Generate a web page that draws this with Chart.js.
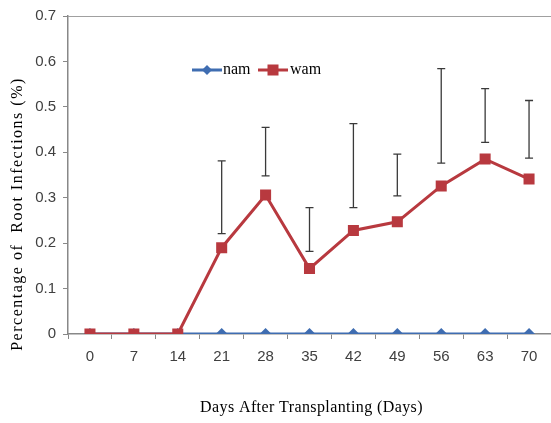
<!DOCTYPE html>
<html>
<head>
<meta charset="utf-8">
<script src="https://cdn.jsdelivr.net/npm/chart.js@4.4.1/dist/chart.umd.min.js"></script>
<style>
  html, body { margin: 0; padding: 0; background: #fff; }
  #wrap { width: 551px; height: 423px; }
</style>
</head>
<body>
<div id="wrap"><canvas id="chart"></canvas></div>
<script>
// days after transplanting
const days = ["0", "7", "14", "21", "28", "35", "42", "49", "56", "63", "70"];
// root infection percentages
const nam = [0, 0, 0, 0, 0, 0, 0, 0, 0, 0, 0];
const wam = [0, 0, 0, 0.19, 0.306, 0.144, 0.228, 0.247, 0.326, 0.385, 0.341];
// error bar ranges (drawn as floating bars, as in the source figure)
const errLow = [null, null, null, 0.221, 0.348, 0.182, 0.278, 0.304, 0.376, 0.422, 0.387];
const errHigh = [null, null, null, 0.381, 0.455, 0.278, 0.463, 0.396, 0.584, 0.540, 0.514];
const yTicks = [0, 0.1, 0.2, 0.3, 0.4, 0.5, 0.6, 0.7];

const xTitle = "Days After Transplanting (Days)";
const yTitle = "Percentage of  Root Infections (%)";

const BLUE = "#3F6DB1";
const RED = "#B8393F";

// draws the error bars from the arrays through the scales
const errorBars = {
    id: "errorBars",
    afterDatasetsDraw(chart) {
        const ctx = chart.ctx;
        const x = chart.scales.x;
        const y = chart.scales.y;
        ctx.save();
        ctx.strokeStyle = "#3a3a3a";
        ctx.lineWidth = 1.3;
        errLow.forEach((lo, i) => {
            if (lo === null) return;
            const px = x.getPixelForValue(i);
            const y1 = y.getPixelForValue(lo);
            const y2 = y.getPixelForValue(errHigh[i]);
            ctx.beginPath();
            ctx.moveTo(px, y1); ctx.lineTo(px, y2);
            ctx.moveTo(px - 4, y1); ctx.lineTo(px + 4, y1);
            ctx.moveTo(px - 4, y2); ctx.lineTo(px + 4, y2);
            ctx.stroke();
        });
        ctx.restore();
    }
};

// top border line, axis titles and the legend inside the plot
const extras = {
    id: "extras",
    afterDraw(chart) {
        const ctx = chart.ctx;
        const a = chart.chartArea;
        ctx.save();
        ctx.strokeStyle = "#a0a0a0";
        ctx.lineWidth = 1;
        ctx.beginPath();
        ctx.moveTo(a.left, a.top + 0.5);
        ctx.lineTo(a.right, a.top + 0.5);
        ctx.stroke();

        // axis titles (letter spaced like the original)
        ctx.fillStyle = "#000";
        ctx.textAlign = "center";
        ctx.textBaseline = "middle";
        ctx.font = "16px 'Liberation Serif'";
        ctx.letterSpacing = "0.4px";
        ctx.fillText(xTitle, (a.left + a.right) / 2 + 2, 408);
        ctx.save();
        ctx.translate(18, 214);
        ctx.rotate(-Math.PI / 2);
        ctx.letterSpacing = "1.5px";
        ctx.fillText(yTitle, 0, 0);
        ctx.restore();
        ctx.letterSpacing = "0px";

        const ly = 70;
        ctx.textAlign = "left";
        ctx.lineWidth = 3;
        ctx.font = "16px 'Liberation Serif'";
        // nam
        ctx.strokeStyle = BLUE;
        ctx.beginPath(); ctx.moveTo(192, ly); ctx.lineTo(222, ly); ctx.stroke();
        ctx.fillStyle = BLUE;
        ctx.beginPath();
        ctx.moveTo(207, ly - 5); ctx.lineTo(212, ly); ctx.lineTo(207, ly + 5); ctx.lineTo(202, ly);
        ctx.closePath(); ctx.fill();
        ctx.fillStyle = "#000";
        ctx.fillText(chart.data.datasets[1].label, 223, ly);
        // wam
        ctx.strokeStyle = RED;
        ctx.beginPath(); ctx.moveTo(258, ly); ctx.lineTo(288, ly); ctx.stroke();
        ctx.fillStyle = RED;
        ctx.fillRect(267.5, ly - 5.5, 11, 11);
        ctx.fillStyle = "#000";
        ctx.fillText(chart.data.datasets[0].label, 290, ly);
        ctx.restore();
    }
};

new Chart(document.getElementById("chart"), {
    type: "line",
    data: {
        labels: days,
        datasets: [
            {
                label: "wam",
                data: wam,
                borderColor: RED,
                backgroundColor: RED,
                borderWidth: 3,
                pointStyle: "rect",
                pointRadius: 7.8,
                pointHoverRadius: 7.8,
                pointBorderWidth: 0,
                tension: 0
            },
            {
                label: "nam",
                data: nam,
                borderColor: BLUE,
                backgroundColor: BLUE,
                borderWidth: 3,
                pointStyle: "rectRot",
                pointRadius: 6,
                pointHoverRadius: 6,
                pointBorderWidth: 0,
                tension: 0
            }
        ]
    },
    options: {
        responsive: true,
        maintainAspectRatio: false,
        animation: false,
        layout: { autoPadding: false, padding: { top: 14, right: 0, left: 0, bottom: 0 } },
        plugins: {
            legend: { display: false },
            tooltip: { enabled: false }
        },
        scales: {
            x: {
                offset: true,
                grid: { offset: true, drawOnChartArea: false, color: "#888", tickLength: 5 },
                border: { color: "#888", width: 1.5 },
                ticks: {
                    color: "#404040",
                    font: { family: "'Liberation Sans'", size: 15 },
                    padding: 9,
                    maxRotation: 0,
                    autoSkip: false
                },
                afterFit(scale) { scale.height = 89; }
            },
            y: {
                min: 0,
                max: 0.7,
                afterBuildTicks(scale) { scale.ticks = yTicks.map(v => ({ value: v })); },
                grid: { drawOnChartArea: false, color: "#888", tickLength: 5 },
                border: { color: "#888", width: 1.5 },
                ticks: {
                    color: "#404040",
                    font: { family: "'Liberation Sans'", size: 15 },
                    padding: 7,
                    callback: v => (v === 0 ? "0" : v.toFixed(1))
                },
                afterFit(scale) { scale.width = 68; }
            }
        }
    },
    plugins: [errorBars, extras]
});
</script>
</body>
</html>
